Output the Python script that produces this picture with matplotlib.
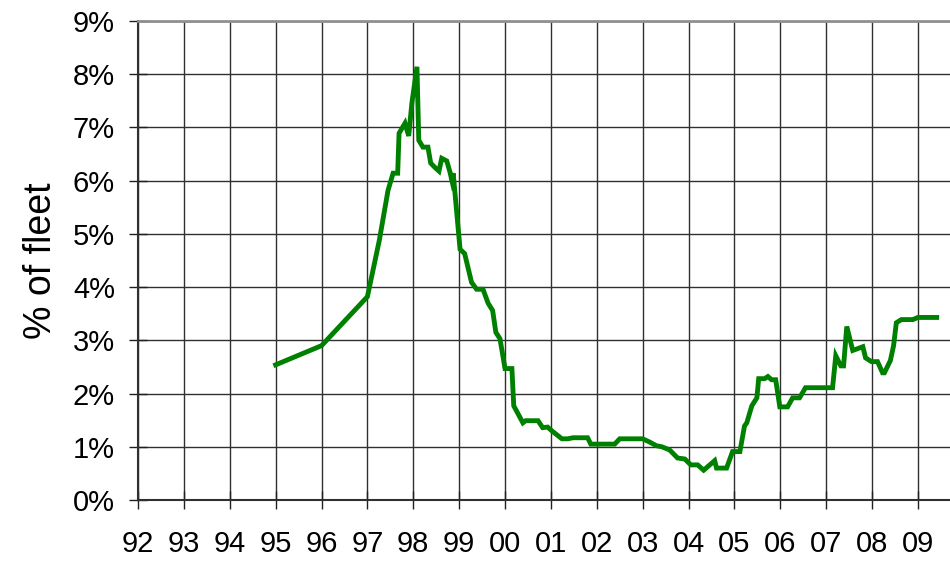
import matplotlib
matplotlib.use("Agg")
import matplotlib.pyplot as plt
from matplotlib.ticker import FuncFormatter

plt.rcParams['font.family'] = ['Liberation Sans', 'DejaVu Sans']

# share of fleet idle (%) vs. year (fractional)
years = [1995.00, 1996.00, 1997.00, 1997.26, 1997.45, 1997.56, 1997.66, 1997.69,
         1997.82, 1997.90, 1997.97, 1998.08, 1998.12, 1998.21, 1998.32, 1998.38,
         1998.47, 1998.56, 1998.62, 1998.73, 1998.80, 1998.84, 1998.87, 1999.02,
         1999.12, 1999.27, 1999.38, 1999.52, 1999.63, 1999.73, 1999.80, 1999.89,
         2000.00, 2000.15, 2000.19, 2000.39, 2000.45, 2000.72, 2000.82, 2000.93,
         2001.02, 2001.24, 2001.37, 2001.48, 2001.80, 2001.87, 2002.39, 2002.50,
         2003.00, 2003.15, 2003.30, 2003.42, 2003.59, 2003.76, 2003.92, 2004.05,
         2004.20, 2004.33, 2004.57, 2004.61, 2004.83, 2004.96, 2005.12, 2005.22,
         2005.27, 2005.38, 2005.49, 2005.53, 2005.66, 2005.73, 2005.81, 2005.90,
         2005.99, 2006.16, 2006.27, 2006.42, 2006.55, 2007.14, 2007.21, 2007.32,
         2007.38, 2007.45, 2007.58, 2007.80, 2007.86, 2007.99, 2008.12, 2008.23,
         2008.27, 2008.40, 2008.47, 2008.53, 2008.64, 2008.89, 2009.00, 2009.41]
pct_fleet = [2.54, 2.90, 3.82, 4.88, 5.82, 6.14, 6.14, 6.89,
             7.08, 6.84, 7.46, 8.14, 6.76, 6.63, 6.63, 6.33,
             6.25, 6.18, 6.42, 6.37, 6.16, 6.01, 6.14, 4.71,
             4.63, 4.09, 3.96, 3.96, 3.70, 3.56, 3.15, 3.03,
             2.47, 2.47, 1.77, 1.45, 1.49, 1.49, 1.36, 1.37,
             1.30, 1.15, 1.15, 1.17, 1.17, 1.05, 1.05, 1.15,
             1.15, 1.09, 1.02, 1.00, 0.94, 0.79, 0.77, 0.66,
             0.66, 0.56, 0.74, 0.60, 0.60, 0.91, 0.91, 1.39,
             1.45, 1.77, 1.92, 2.28, 2.28, 2.32, 2.26, 2.26,
             1.75, 1.75, 1.92, 1.92, 2.11, 2.11, 2.71, 2.52,
             2.52, 3.26, 2.81, 2.88, 2.67, 2.60, 2.60, 2.39,
             2.39, 2.62, 2.90, 3.33, 3.39, 3.39, 3.43, 3.43]

year_ticks = list(range(1992, 2010))
pct_ticks = list(range(0, 10))


def main():
    fig = plt.figure(figsize=(9.5, 5.61), dpi=100)
    ax = fig.add_axes([0.1453, 0.1087, 0.8547, 0.8539])

    ax.plot(years, pct_fleet, color="#008000", linewidth=3.5, solid_joinstyle="miter", zorder=3)

    ax.set_xlim(1992, 2009.7)
    ax.set_ylim(0, 9)
    ax.set_xticks(year_ticks)
    ax.set_yticks(pct_ticks)
    ax.xaxis.set_major_formatter(FuncFormatter(lambda v, p: "%02d" % (int(round(v)) % 100)))
    ax.yaxis.set_major_formatter(FuncFormatter(lambda v, p: "%d%%" % v))

    ax.grid(True, color="#303030", linewidth=1.0)
    ax.set_axisbelow(True)
    ax.tick_params(axis="both", direction="inout", length=13, width=1.0, color="#202020",
                   labelsize=21, pad=10)
    ax.tick_params(axis="x", pad=15)

    ax.spines["right"].set_visible(False)
    ax.spines["top"].set_color("#909090")
    ax.spines["top"].set_linewidth(2.0)
    ax.spines["left"].set_color("#303030")
    ax.spines["bottom"].set_color("#303030")
    ax.spines["left"].set_linewidth(1.5)
    ax.spines["bottom"].set_linewidth(1.5)

    ax.set_ylabel("% of fleet", fontsize=27, labelpad=10)

    fig.savefig("out.png", dpi=100)


if __name__ == "__main__":
    main()
